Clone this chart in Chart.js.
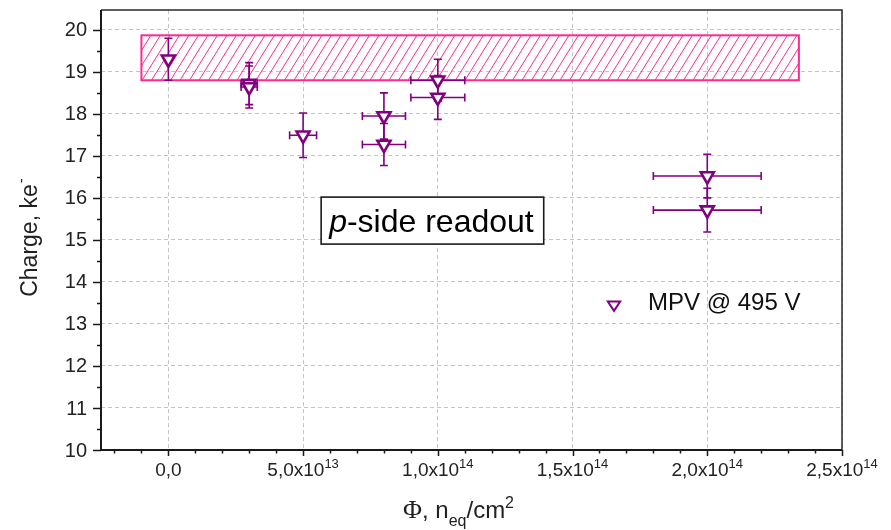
<!DOCTYPE html>
<html>
<head>
<meta charset="utf-8">
<script src="https://cdn.jsdelivr.net/npm/chart.js@4.4.1/dist/chart.umd.min.js"></script>
<style>
  html, body { margin: 0; padding: 0; background: #fff; }
  #wrap { width: 891px; height: 530px; }
</style>
</head>
<body>
<div id="wrap"><canvas id="c" width="891" height="530"></canvas></div>
<script>
// Most probable charge vs. fluence
const fluence    = [0, 3e13, 3e13, 5e13, 8e13, 8e13, 1e14, 1e14, 2e14, 2e14];
const charge     = [19.30, 18.72, 18.64, 17.49, 17.95, 17.27, 18.80, 18.39, 16.52, 15.71];
const chargeErr  = [0.50, 0.50, 0.50, 0.53, 0.55, 0.50, 0.50, 0.52, 0.52, 0.52];
const fluenceErr = [0, 3e12, 3e12, 5e12, 8e12, 8e12, 1e13, 1e13, 2e13, 2e13];

// Axis ticks
const xTickValues   = [0, 5e13, 1e14, 1.5e14, 2e14, 2.5e14];
const xTickMantissa = ['0,0', '5,0', '1,0', '1,5', '2,0', '2,5'];
const xTickExponent = ['', '13', '14', '14', '14', '14'];
const yTickValues   = [10, 11, 12, 13, 14, 15, 16, 17, 18, 19, 20];

// Reference band (unirradiated charge range)
const bandFluence = [-1e13, 2.34e14];
const bandCharge  = [18.80, 19.87];

// Texts
const seriesLabel = 'MPV @ 495 V';
const noteItalic  = 'p';
const noteRest    = '-side readout';
const notePos     = [9.8e13, 15.46];

const SANS  = '"Liberation Sans", Arial, Helvetica, sans-serif';
const SERIF = '"Liberation Serif", "Times New Roman", serif';
const PURPLE = '#800080';
const PINK = '#ff2a90';

const errorBars = {
  id: 'errorBars',
  beforeDatasetsDraw(chart) {
    const { ctx, scales: { x, y } } = chart;

    // hatched band
    const bx0 = x.getPixelForValue(bandFluence[0]);
    const bx1 = x.getPixelForValue(bandFluence[1]);
    const by0 = y.getPixelForValue(bandCharge[1]);
    const by1 = y.getPixelForValue(bandCharge[0]);
    ctx.save();
    ctx.beginPath();
    ctx.rect(bx0, by0, bx1 - bx0, by1 - by0);
    ctx.clip();
    ctx.strokeStyle = PINK;
    ctx.lineWidth = 1;
    const h = by1 - by0;
    const run = h * 0.62;
    ctx.beginPath();
    for (let k = bx0 - run; k < bx1 + 2; k += 9.5) {
      ctx.moveTo(k, by1);
      ctx.lineTo(k + run, by0);
    }
    ctx.stroke();
    ctx.restore();
    ctx.save();
    ctx.strokeStyle = PINK;
    ctx.lineWidth = 2;
    ctx.strokeRect(bx0, by0, bx1 - bx0, by1 - by0);
    ctx.restore();

    // error bars
    ctx.save();
    ctx.strokeStyle = PURPLE;
    ctx.lineWidth = 1.6;
    const cap = 4;
    for (let i = 0; i < fluence.length; i++) {
      const px = x.getPixelForValue(fluence[i]);
      const py = y.getPixelForValue(charge[i]);
      const yt = y.getPixelForValue(charge[i] + chargeErr[i]);
      const yb = y.getPixelForValue(charge[i] - chargeErr[i]);
      ctx.beginPath();
      ctx.moveTo(px, yt); ctx.lineTo(px, yb);
      ctx.moveTo(px - cap, yt); ctx.lineTo(px + cap, yt);
      ctx.moveTo(px - cap, yb); ctx.lineTo(px + cap, yb);
      if (fluenceErr[i] > 0) {
        const xl = x.getPixelForValue(fluence[i] - fluenceErr[i]);
        const xr = x.getPixelForValue(fluence[i] + fluenceErr[i]);
        ctx.moveTo(xl, py); ctx.lineTo(xr, py);
        ctx.moveTo(xl, py - cap); ctx.lineTo(xl, py + cap);
        ctx.moveTo(xr, py - cap); ctx.lineTo(xr, py + cap);
      }
      ctx.stroke();
    }
    ctx.restore();
  }
};

const frameAndLabels = {
  id: 'frameAndLabels',
  afterDraw(chart) {
    const { ctx, scales: { x, y }, chartArea: a } = chart;
    ctx.save();

    // frame
    ctx.strokeStyle = '#2a2a2a';
    ctx.lineWidth = 1.5;
    ctx.beginPath();
    ctx.moveTo(a.left, a.top); ctx.lineTo(a.right, a.top); ctx.lineTo(a.right, a.bottom);
    ctx.stroke();
    ctx.lineWidth = 2;
    ctx.strokeStyle = '#1a1a1a';
    ctx.beginPath();
    ctx.moveTo(a.left, a.top); ctx.lineTo(a.left, a.bottom); ctx.lineTo(a.right, a.bottom);
    ctx.stroke();

    // y ticks
    ctx.lineWidth = 1.5;
    ctx.beginPath();
    for (let v = yTickValues[0]; v <= yTickValues[yTickValues.length - 1] + 1e-9; v += 0.5) {
      const py = Math.round(y.getPixelForValue(v)) + 0.5;
      const len = Number.isInteger(v) ? 8 : 4;
      ctx.moveTo(a.left - len, py); ctx.lineTo(a.left, py);
    }
    // x ticks
    for (let k = -2; k <= 25; k++) {
      const v = k * 1e13;
      const px = Math.round(x.getPixelForValue(v)) + 0.5;
      const len = (k % 5 === 0) ? 6 : 3.5;
      ctx.moveTo(px, a.bottom); ctx.lineTo(px, a.bottom + len);
    }
    ctx.stroke();

    // y tick labels
    ctx.fillStyle = '#222';
    ctx.font = '20px ' + SANS;
    ctx.textAlign = 'right';
    ctx.textBaseline = 'middle';
    yTickValues.forEach(v => {
      ctx.fillText(String(v), a.left - 14, y.getPixelForValue(v) + 1);
    });

    // x tick labels with exponents
    ctx.textBaseline = 'alphabetic';
    ctx.textAlign = 'left';
    xTickValues.forEach((v, i) => {
      const px = x.getPixelForValue(v);
      ctx.font = '19px ' + SANS;
      const base = xTickExponent[i] ? xTickMantissa[i] + 'x10' : xTickMantissa[i];
      const wb = ctx.measureText(base).width;
      ctx.font = '13px ' + SANS;
      const we = xTickExponent[i] ? ctx.measureText(xTickExponent[i]).width : 0;
      const x0 = px - (wb + we) / 2;
      ctx.font = '19px ' + SANS;
      ctx.fillText(base, x0, a.bottom + 26);
      if (xTickExponent[i]) {
        ctx.font = '13px ' + SANS;
        ctx.fillText(xTickExponent[i], x0 + wb, a.bottom + 18);
      }
    });

    // x title: Φ, n_eq/cm²
    {
      const parts = [
        { t: 'Φ', f: '26px ' + SERIF, dy: 0 },
        { t: ', n', f: '24px ' + SANS, dy: 0 },
        { t: 'eq', f: '16px ' + SANS, dy: 8 },
        { t: '/cm', f: '24px ' + SANS, dy: 0 },
        { t: '2', f: '16px ' + SANS, dy: -10 }
      ];
      let total = 0;
      parts.forEach(p => { ctx.font = p.f; p.w = ctx.measureText(p.t).width; total += p.w; });
      let cx = (a.left + a.right) / 2 - 13 - total / 2;
      const base = 518;
      parts.forEach(p => { ctx.font = p.f; ctx.fillText(p.t, cx, base + p.dy); cx += p.w; });
    }

    // y title: Charge, ke⁻
    {
      ctx.save();
      ctx.translate(37, (a.top + a.bottom) / 2 + 8);
      ctx.rotate(-Math.PI / 2);
      ctx.font = '23px ' + SANS;
      const main = 'Charge, ke';
      const wm = ctx.measureText(main).width;
      ctx.font = '15px ' + SANS;
      const ws = ctx.measureText('-').width;
      const x0 = -(wm + ws) / 2;
      ctx.font = '23px ' + SANS;
      ctx.fillText(main, x0, 0);
      ctx.font = '15px ' + SANS;
      ctx.fillText('-', x0 + wm + 1, -11);
      ctx.restore();
    }

    // legend
    {
      const lx = a.left + 513, ly = 305;
      const r = 6.5;
      ctx.strokeStyle = PURPLE;
      ctx.fillStyle = '#fff';
      ctx.beginPath();
      ctx.moveTo(lx - r * 0.95, ly - r * 0.55);
      ctx.lineTo(lx + r * 0.95, ly - r * 0.55);
      ctx.lineTo(lx, ly + r * 0.9);
      ctx.closePath();
      ctx.fill();
      ctx.lineWidth = 2;
      ctx.stroke();
      ctx.fillStyle = '#111';
      ctx.font = '24px ' + SANS;
      ctx.textAlign = 'left';
      ctx.textBaseline = 'alphabetic';
      ctx.fillText(seriesLabel, lx + 34, 310);
    }

    // note box: p-side readout
    {
      const cx = x.getPixelForValue(notePos[0]);
      const cy = y.getPixelForValue(notePos[1]);
      ctx.font = 'italic 32px ' + SANS;
      const wi = ctx.measureText(noteItalic).width;
      ctx.font = '32px ' + SANS;
      const wr = ctx.measureText(noteRest).width;
      const w = wi + wr + 18, h = 47;
      const bx = cx - w / 2, by = cy - h / 2;
      ctx.fillStyle = '#fff';
      ctx.fillRect(bx, by, w, h);
      ctx.strokeStyle = '#1a1a1a';
      ctx.lineWidth = 1.6;
      ctx.strokeRect(bx, by, w, h);
      ctx.fillStyle = '#000';
      ctx.textAlign = 'left';
      ctx.textBaseline = 'alphabetic';
      ctx.font = 'italic 32px ' + SANS;
      ctx.fillText(noteItalic, bx + 8, by + 35);
      ctx.font = '32px ' + SANS;
      ctx.fillText(noteRest, bx + 8 + wi, by + 35);
    }

    ctx.restore();
  }
};

new Chart(document.getElementById('c').getContext('2d'), {
  type: 'scatter',
  data: {
    datasets: [{
      label: seriesLabel,
      data: fluence.map((v, i) => ({ x: v, y: charge[i] })),
      pointStyle: 'triangle',
      rotation: 180,
      pointRadius: 7.5,
      pointHoverRadius: 7.5,
      borderColor: PURPLE,
      backgroundColor: '#ffffff',
      borderWidth: 2.6
    }]
  },
  options: {
    responsive: false,
    animation: false,
    devicePixelRatio: 1,
    events: [],
    layout: { padding: { left: 101, right: 49, top: 10, bottom: 80 } },
    plugins: { legend: { display: false }, tooltip: { enabled: false } },
    scales: {
      x: {
        type: 'linear',
        min: -2.5e13,
        max: 2.5e14,
        afterBuildTicks: s => { s.ticks = xTickValues.map(v => ({ value: v })); },
        ticks: { display: false },
        grid: { color: '#c4c4c4', lineWidth: 1, drawTicks: false, tickLength: 0 },
        border: { display: false, dash: [4, 3] }
      },
      y: {
        type: 'linear',
        min: 10,
        max: 20.47,
        afterBuildTicks: s => { s.ticks = yTickValues.map(v => ({ value: v })); },
        ticks: { display: false },
        grid: { color: '#c4c4c4', lineWidth: 1, drawTicks: false, tickLength: 0 },
        border: { display: false, dash: [4, 3] }
      }
    }
  },
  plugins: [errorBars, frameAndLabels]
});
</script>
</body>
</html>
